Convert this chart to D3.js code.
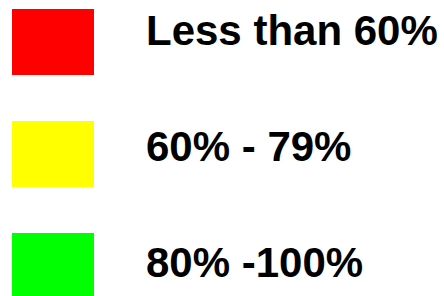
<!DOCTYPE html>
<html>
<head>
<meta charset="utf-8">
<script src="https://cdn.jsdelivr.net/npm/d3@7"></script>
<style>
  body { margin: 0; background: #fff; }
  svg { display: block; }
</style>
</head>
<body>
<div id="legend"></div>
<script>
// legend entries
var labels = ["Less than 60%", "60% - 79%", "80% -100%"];
var colors = ["#ff0000", "#ffff00", "#00ff00"];

var svgWidth = 444;
var svgHeight = 296;

var svg = d3.select("#legend")
    .append("svg")
    .attr("width", svgWidth)
    .attr("height", svgHeight);

// rows: swatch tops and text baselines
var swatchY = d3.scalePoint()
    .domain(labels)
    .range([9, 233]);

var textY = d3.scalePoint()
    .domain(labels)
    .range([45, 277]);

var rows = svg.selectAll("g.row")
    .data(labels)
    .enter()
    .append("g")
    .attr("class", "row");

rows.append("rect")
    .attr("x", 12)
    .attr("y", d => swatchY(d))
    .attr("width", 82)
    .attr("height", 66)
    .attr("fill", (d, i) => colors[i]);

rows.append("text")
    .attr("x", 146)
    .attr("y", d => textY(d))
    .attr("font-family", "'Liberation Sans', Arial, sans-serif")
    .attr("font-weight", "bold")
    .attr("font-size", "42px")
    .attr("fill", "#000")
    .text(d => d);
</script>
</body>
</html>
